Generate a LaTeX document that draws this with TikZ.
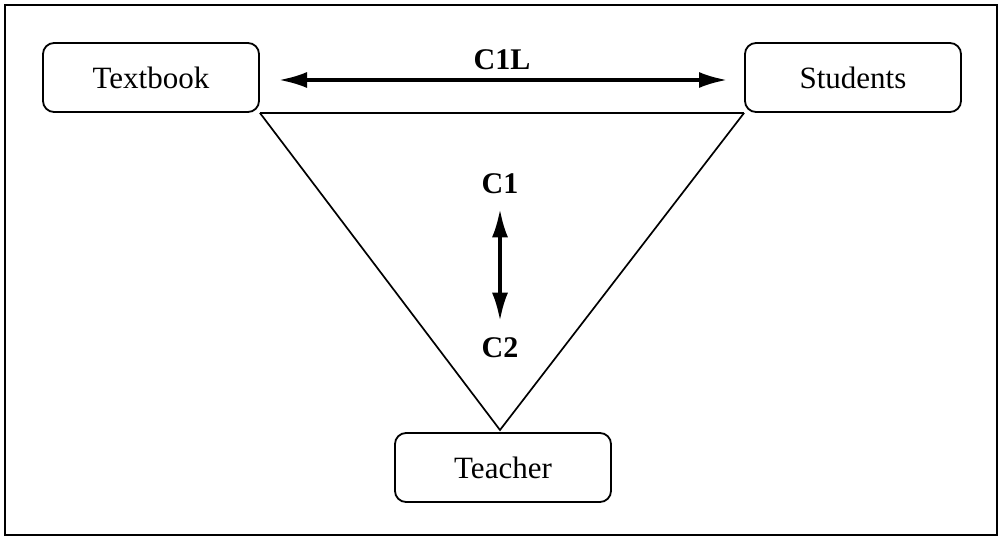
\documentclass[tikz,border=0pt]{standalone}
\usepackage{fontspec}
\setmainfont{Liberation Serif}
\usetikzlibrary{arrows.meta}
\begin{document}
\begin{tikzpicture}[x=1pt,y=-1pt,
  box/.style={draw, line width=1.8pt, rounded corners=11pt, minimum width=216pt, minimum height=69pt, inner sep=0pt, font=\fontsize{31}{34}\selectfont},
  lbl/.style={font=\fontsize{30}{33}\selectfont\bfseries, inner sep=0pt},
  dbl/.style={line width=3.2pt, {Latex[length=28pt,width=16pt]}-{Latex[length=28pt,width=16pt]}},
  edge/.style={line width=1.7pt}]
\useasboundingbox (0,0) rectangle (1004,540);
\draw[line width=1.2pt] (5,5) rectangle (997,535);
\node[box] (tb) at (151,77.5) {Textbook};
\node[box] (st) at (853,77.5) {Students};
\node[box] (te) at (503,467.5) {Teacher};
\coordinate (apex) at (500,430);
\draw[edge] (tb.south east) -- (st.south west);
\draw[edge] (tb.south east) -- (apex) -- (st.south west);
\node[lbl] (c1l) at (502,60) {C1L};
\coordinate (al) at (279,80);
\coordinate (ar) at (727,80);
\draw[dbl] (al) -- (ar);
\node[lbl] (c1) at (500,184) {C1};
\node[lbl] (c2) at (500,348) {C2};
\draw[dbl] ([yshift=-15pt]c1.south) -- ([yshift=17pt]c2.north);
\end{tikzpicture}
\end{document}
